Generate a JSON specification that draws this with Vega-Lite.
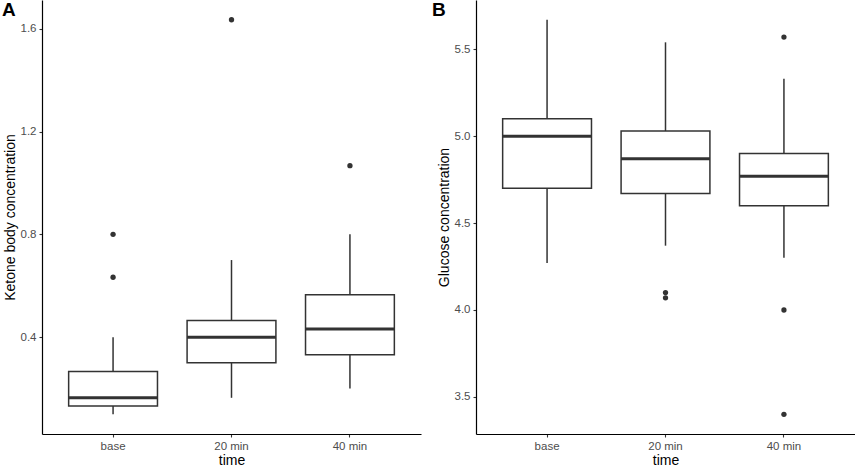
{
  "$schema": "https://vega.github.io/schema/vega-lite/v6.json",
  "padding": {"left": 2, "top": 0, "right": 0, "bottom": 0},
  "spacing": 11,
  "background": "white",
  "datasets": {
    "ketone_box": [
      {"time": "base", "lower": 0.1, "q1": 0.132, "median": 0.164, "q3": 0.266, "upper": 0.4},
      {"time": "20 min", "lower": 0.164, "q1": 0.3, "median": 0.4, "q3": 0.465, "upper": 0.7},
      {"time": "40 min", "lower": 0.2, "q1": 0.332, "median": 0.432, "q3": 0.565, "upper": 0.8}
    ],
    "ketone_out": [
      {"time": "base", "value": 0.8},
      {"time": "base", "value": 0.633},
      {"time": "20 min", "value": 1.635},
      {"time": "40 min", "value": 1.067}
    ],
    "glucose_box": [
      {"time": "base", "lower": 4.27, "q1": 4.7, "median": 5.0, "q3": 5.1, "upper": 5.67},
      {"time": "20 min", "lower": 4.37, "q1": 4.67, "median": 4.87, "q3": 5.03, "upper": 5.54},
      {"time": "40 min", "lower": 4.3, "q1": 4.6, "median": 4.77, "q3": 4.9, "upper": 5.33}
    ],
    "glucose_out": [
      {"time": "20 min", "value": 4.1},
      {"time": "20 min", "value": 4.07},
      {"time": "40 min", "value": 5.57},
      {"time": "40 min", "value": 4.0},
      {"time": "40 min", "value": 3.4}
    ]
  },
  "hconcat": [
    {
      "title": {"text": "A", "dx": -1},
      "width": 379,
      "height": 434,
      "encoding": {
        "x": {
          "field": "time",
          "type": "nominal",
          "title": "time",
          "sort": ["base", "20 min", "40 min"],
          "scale": {"type": "band", "domain": ["base", "20 min", "40 min"], "paddingInner": 0, "paddingOuter": 0.1},
          "axis": {"labelAngle": 0}
        }
      },
      "layer": [
        {
          "data": {"name": "ketone_box"},
          "mark": {"type": "rule", "color": "#333333", "strokeWidth": 1.5},
          "encoding": {
            "y": {"field": "lower", "type": "quantitative", "title": "Ketone body concentration",
              "scale": {"domain": [0.0232, 1.7118], "nice": false, "zero": false},
              "axis": {"values": [0.4, 0.8, 1.2, 1.6], "format": ".1f"}},
            "y2": {"field": "upper"}
          }
        },
        {
          "data": {"name": "ketone_box"},
          "mark": {"type": "bar", "fill": "white", "stroke": "#333333", "strokeWidth": 1.5, "width": {"band": 0.75}},
          "encoding": {
            "y": {"field": "q1", "type": "quantitative", "title": "Ketone body concentration"},
            "y2": {"field": "q3"}
          }
        },
        {
          "data": {"name": "ketone_box"},
          "mark": {"type": "tick", "orient": "horizontal", "color": "#333333", "size": 89, "thickness": 3, "opacity": 1},
          "encoding": {
            "y": {"field": "median", "type": "quantitative", "title": "Ketone body concentration"}
          }
        },
        {
          "data": {"name": "ketone_out"},
          "mark": {"type": "circle", "color": "#333333", "size": 28, "opacity": 1},
          "encoding": {
            "y": {"field": "value", "type": "quantitative", "title": "Ketone body concentration"}
          }
        }
      ]
    },
    {
      "title": {"text": "B", "dx": -5},
      "width": 379,
      "height": 434,
      "encoding": {
        "x": {
          "field": "time",
          "type": "nominal",
          "title": "time",
          "sort": ["base", "20 min", "40 min"],
          "scale": {"type": "band", "domain": ["base", "20 min", "40 min"], "paddingInner": 0, "paddingOuter": 0.1},
          "axis": {"labelAngle": 0}
        }
      },
      "layer": [
        {
          "data": {"name": "glucose_box"},
          "mark": {"type": "rule", "color": "#333333", "strokeWidth": 1.5},
          "encoding": {
            "y": {"field": "lower", "type": "quantitative", "title": "Glucose concentration",
              "scale": {"domain": [3.2865, 5.7835], "nice": false, "zero": false},
              "axis": {"values": [3.5, 4.0, 4.5, 5.0, 5.5], "format": ".1f"}},
            "y2": {"field": "upper"}
          }
        },
        {
          "data": {"name": "glucose_box"},
          "mark": {"type": "bar", "fill": "white", "stroke": "#333333", "strokeWidth": 1.5, "width": {"band": 0.75}},
          "encoding": {
            "y": {"field": "q1", "type": "quantitative", "title": "Glucose concentration"},
            "y2": {"field": "q3"}
          }
        },
        {
          "data": {"name": "glucose_box"},
          "mark": {"type": "tick", "orient": "horizontal", "color": "#333333", "size": 89, "thickness": 3, "opacity": 1},
          "encoding": {
            "y": {"field": "median", "type": "quantitative", "title": "Glucose concentration"}
          }
        },
        {
          "data": {"name": "glucose_out"},
          "mark": {"type": "circle", "color": "#333333", "size": 28, "opacity": 1},
          "encoding": {
            "y": {"field": "value", "type": "quantitative", "title": "Glucose concentration"}
          }
        }
      ]
    }
  ],
  "config": {
    "view": {"stroke": null},
    "font": "Liberation Sans",
    "title": {"font": "Liberation Sans", "fontSize": 19, "fontWeight": "bold", "color": "black", "anchor": "start", "frame": "bounds", "offset": -20},
    "axis": {
      "grid": false,
      "domainColor": "black",
      "domainWidth": 1.2,
      "tickColor": "#333333",
      "tickWidth": 1.1,
      "tickSize": 3,
      "labelColor": "#4d4d4d",
      "labelFont": "Liberation Sans",
      "labelFontSize": 11.5,
      "labelPadding": 3,
      "titleFont": "Liberation Sans",
      "titleFontSize": 14,
      "titleFontWeight": "normal",
      "titleColor": "black"
    },
    "axisX": {"titlePadding": 2},
    "axisY": {"titlePadding": 3}
  }
}
